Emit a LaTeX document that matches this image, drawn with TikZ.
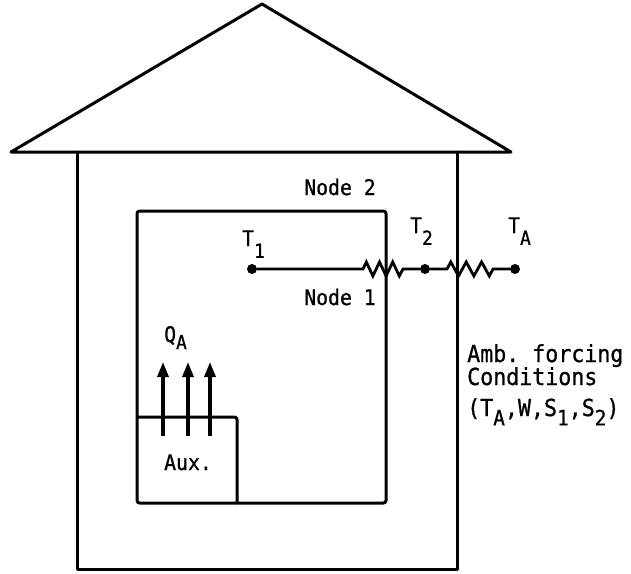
\documentclass[tikz,border=0pt]{standalone}
\usepackage{fontspec}
\setmonofont[FakeStretch=0.92,FakeBold=0.8]{DejaVu Sans Mono}
\usetikzlibrary{arrows.meta}
% lowered subscript as typed on the drawing
\newcommand{\lsub}[2][0.55em]{\raisebox{-#1}{\scalebox{0.9}{#2}}}
\newcommand{\labfont}{\fontsize{21.5}{23}\selectfont\ttfamily}
\newcommand{\ambfont}{\fontsize{23.5}{25}\selectfont\ttfamily}
\begin{document}
\begin{tikzpicture}[x=1pt,y=-1pt,
  wall/.style={line width=3pt, line join=round, line cap=round},
  wire/.style={line width=2.8pt, line join=miter},
  dot/.style={circle, fill, inner sep=0pt, minimum size=10pt},
  lab/.style={font=\labfont, inner sep=0pt, anchor=base west},
  amb/.style={font=\ambfont, inner sep=0pt, anchor=base west},
  heat/.style={line width=3.2pt, -{Triangle[length=15pt,width=11pt]}},
]
\useasboundingbox (0,0) rectangle (631,573);

% roof
\draw[wall] (11,152) -- (262,4) -- (511,152) -- cycle;
% outer walls of the house
\draw[wall] (77,152) -- (77,569) -- (457,569) -- (457,152);
% conditioned zone (node 1)
\draw[wall, rounded corners=2.5pt] (137,503) -- (137,211) -- (386,211) -- (386,503) -- cycle;
% auxiliary heater
\draw[wall, rounded corners=2.5pt] (137,417) -- (237,417) -- (237,503);
\node[lab, anchor=base] (aux) at (188,470) {Aux.};

% auxiliary heat input arrows
\coordinate (h1a) at (163,436); \coordinate (h1b) at (163,362);
\coordinate (h2a) at (188,436); \coordinate (h2b) at (188,362);
\coordinate (h3a) at (210,436); \coordinate (h3b) at (210,362);
\draw[heat] (h1a) -- (h1b);
\draw[heat] (h2a) -- (h2b);
\draw[heat] (h3a) -- (h3b);
\node[lab] (qa) at (164,342) {Q\lsub[0.33em]{A}};

% thermal network
\node[dot] (t1) at (252,269) {};
\node[dot] (t2) at (425,269) {};
\node[dot] (ta) at (515,269) {};
\coordinate (r1a) at (363,269); \coordinate (r1b) at (403,269);
\coordinate (r2a) at (447,269); \coordinate (r2b) at (493,269);
\draw[wire] (t1) -- (r1a)
  -- ++(3.3,-7) -- ++(6.6,14) -- ++(6.6,-14) -- ++(6.6,14)
  -- ++(6.6,-14) -- ++(6.6,14) -- (r1b) -- (t2);
\draw[wire] (t2) -- (r2a)
  -- ++(3.8,-7) -- ++(7.7,14) -- ++(7.7,-14) -- ++(7.7,14)
  -- ++(7.7,-14) -- ++(7.7,14) -- (r2b) -- (ta);

\node[lab] (lt1) at (242,246) {T\lsub{1}};
\node[lab] (lt2) at (410,233) {T\lsub{2}};
\node[lab] (lta) at (508,233) {T\lsub{A}};
\node[lab, anchor=base] (n2) at (340,195) {Node 2};
\node[lab, anchor=base] (n1) at (340,305) {Node 1};

% ambient forcing conditions
\node[amb] (amb1) at (467,362) {Amb. forcing};
\node[amb] (amb2) at (467,385) {Conditions};
\node[amb] (amb3) at (467,416) {(T\lsub[0.4em]{A},W,S\lsub[0.4em]{1},S\lsub[0.4em]{2})};
\end{tikzpicture}
\end{document}
